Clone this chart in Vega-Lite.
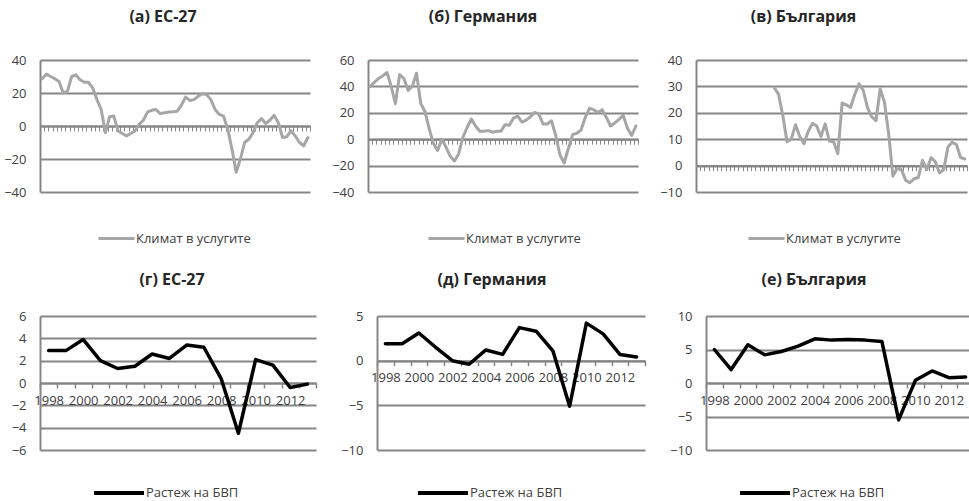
{
  "$schema": "https://vega.github.io/schema/vega-lite/v6.json",
  "padding": {"left": 0, "top": 9, "right": 0, "bottom": 0},
  "background": "white",
  "config": {
    "font": "Open Sans",
    "view": {"stroke": null},
    "axis": {"labelFont": "Open Sans", "labelFontSize": 13, "labelColor": "#404040", "title": null},
    "legend": {"symbolType": "stroke", "labelFont": "Open Sans", "labelFontSize": 13, "labelColor": "#404040", "padding": 0, "labelOffset": 0, "title": null},
    "title": {"font": "Open Sans", "fontSize": 16, "fontWeight": "bold", "color": "#262626", "anchor": "middle", "frame": "group"},
    "line": {"strokeJoin": "round", "strokeCap": "round"}
  },
  "datasets": {
    "eu": [
      {"q":"1998Q1","v":28.7},{"q":"1998Q2","v":31.4},{"q":"1998Q3","v":30},{"q":"1998Q4","v":28.7},
      {"q":"1999Q1","v":27},{"q":"1999Q2","v":20},{"q":"1999Q3","v":21},{"q":"1999Q4","v":30},
      {"q":"2000Q1","v":31},{"q":"2000Q2","v":28},{"q":"2000Q3","v":26.5},{"q":"2000Q4","v":26.5},
      {"q":"2001Q1","v":23},{"q":"2001Q2","v":16},{"q":"2001Q3","v":10},{"q":"2001Q4","v":-4},
      {"q":"2002Q1","v":5.6},{"q":"2002Q2","v":6},{"q":"2002Q3","v":-3},{"q":"2002Q4","v":-4.5},
      {"q":"2003Q1","v":-6},{"q":"2003Q2","v":-4.5},{"q":"2003Q3","v":-3},{"q":"2003Q4","v":1},
      {"q":"2004Q1","v":3.5},{"q":"2004Q2","v":8.5},{"q":"2004Q3","v":9.5},{"q":"2004Q4","v":10},
      {"q":"2005Q1","v":7.5},{"q":"2005Q2","v":8},{"q":"2005Q3","v":8.5},{"q":"2005Q4","v":8.7},
      {"q":"2006Q1","v":9},{"q":"2006Q2","v":12.5},{"q":"2006Q3","v":17.5},{"q":"2006Q4","v":15.5},
      {"q":"2007Q1","v":16},{"q":"2007Q2","v":18},{"q":"2007Q3","v":19.5},{"q":"2007Q4","v":19},
      {"q":"2008Q1","v":16},{"q":"2008Q2","v":10},{"q":"2008Q3","v":7},{"q":"2008Q4","v":6},
      {"q":"2009Q1","v":-2},{"q":"2009Q2","v":-14},{"q":"2009Q3","v":-28},{"q":"2009Q4","v":-20},
      {"q":"2010Q1","v":-10},{"q":"2010Q2","v":-8},{"q":"2010Q3","v":-4},{"q":"2010Q4","v":2},
      {"q":"2011Q1","v":4.5},{"q":"2011Q2","v":1.5},{"q":"2011Q3","v":3.5},{"q":"2011Q4","v":6.5},
      {"q":"2012Q1","v":2},{"q":"2012Q2","v":-7},{"q":"2012Q3","v":-6.5},{"q":"2012Q4","v":-3},
      {"q":"2013Q1","v":-6},{"q":"2013Q2","v":-10},{"q":"2013Q3","v":-12},{"q":"2013Q4","v":-7}
    ],
    "de": [
      {"q":"1998Q1","v":40},{"q":"1998Q2","v":43},{"q":"1998Q3","v":46},{"q":"1998Q4","v":48},
      {"q":"1999Q1","v":50.5},{"q":"1999Q2","v":40},{"q":"1999Q3","v":27},{"q":"1999Q4","v":49},
      {"q":"2000Q1","v":46},{"q":"2000Q2","v":37},{"q":"2000Q3","v":40},{"q":"2000Q4","v":50},
      {"q":"2001Q1","v":27},{"q":"2001Q2","v":21},{"q":"2001Q3","v":8},{"q":"2001Q4","v":-3},
      {"q":"2002Q1","v":-8.5},{"q":"2002Q2","v":0},{"q":"2002Q3","v":-6},{"q":"2002Q4","v":-13},
      {"q":"2003Q1","v":-16.5},{"q":"2003Q2","v":-11},{"q":"2003Q3","v":1.5},{"q":"2003Q4","v":9},
      {"q":"2004Q1","v":15.3},{"q":"2004Q2","v":10},{"q":"2004Q3","v":6},{"q":"2004Q4","v":6},
      {"q":"2005Q1","v":6.5},{"q":"2005Q2","v":5.3},{"q":"2005Q3","v":6},{"q":"2005Q4","v":6},
      {"q":"2006Q1","v":11},{"q":"2006Q2","v":10.5},{"q":"2006Q3","v":16},{"q":"2006Q4","v":17.5},
      {"q":"2007Q1","v":13},{"q":"2007Q2","v":14.5},{"q":"2007Q3","v":17},{"q":"2007Q4","v":20.3},
      {"q":"2008Q1","v":19},{"q":"2008Q2","v":11.5},{"q":"2008Q3","v":11.5},{"q":"2008Q4","v":14},
      {"q":"2009Q1","v":2.8},{"q":"2009Q2","v":-12},{"q":"2009Q3","v":-18},{"q":"2009Q4","v":-7},
      {"q":"2010Q1","v":3.5},{"q":"2010Q2","v":4.5},{"q":"2010Q3","v":7},{"q":"2010Q4","v":16.5},
      {"q":"2011Q1","v":23.4},{"q":"2011Q2","v":22.4},{"q":"2011Q3","v":20.3},{"q":"2011Q4","v":22.4},
      {"q":"2012Q1","v":16.5},{"q":"2012Q2","v":10},{"q":"2012Q3","v":12.3},{"q":"2012Q4","v":15},
      {"q":"2013Q1","v":18},{"q":"2013Q2","v":8.3},{"q":"2013Q3","v":2.8},{"q":"2013Q4","v":10}
    ],
    "bg": [
      {"q":"2002Q3","v":29.5},{"q":"2002Q4","v":27},
      {"q":"2003Q1","v":19},{"q":"2003Q2","v":9},{"q":"2003Q3","v":10},{"q":"2003Q4","v":15.5},
      {"q":"2004Q1","v":11},{"q":"2004Q2","v":8.3},{"q":"2004Q3","v":13},{"q":"2004Q4","v":16},
      {"q":"2005Q1","v":15},{"q":"2005Q2","v":11},{"q":"2005Q3","v":15.8},{"q":"2005Q4","v":9.3},
      {"q":"2006Q1","v":9},{"q":"2006Q2","v":4.5},{"q":"2006Q3","v":23.7},{"q":"2006Q4","v":23},
      {"q":"2007Q1","v":22},{"q":"2007Q2","v":27},{"q":"2007Q3","v":31},{"q":"2007Q4","v":28.5},
      {"q":"2008Q1","v":22},{"q":"2008Q2","v":18.5},{"q":"2008Q3","v":17},{"q":"2008Q4","v":29},
      {"q":"2009Q1","v":24},{"q":"2009Q2","v":12},{"q":"2009Q3","v":-4},{"q":"2009Q4","v":-1},
      {"q":"2010Q1","v":-1.5},{"q":"2010Q2","v":-5.5},{"q":"2010Q3","v":-6.5},{"q":"2010Q4","v":-5},
      {"q":"2011Q1","v":-4.5},{"q":"2011Q2","v":2},{"q":"2011Q3","v":-1.5},{"q":"2011Q4","v":3},
      {"q":"2012Q1","v":1.5},{"q":"2012Q2","v":-2.8},{"q":"2012Q3","v":-1.5},{"q":"2012Q4","v":7},
      {"q":"2013Q1","v":8.8},{"q":"2013Q2","v":8},{"q":"2013Q3","v":3},{"q":"2013Q4","v":2.5}
    ],
    "gdp": [
      {"year":1998,"eu":2.9,"de":1.9,"bg":5.0},
      {"year":1999,"eu":2.9,"de":1.9,"bg":2.0},
      {"year":2000,"eu":3.9,"de":3.1,"bg":5.7},
      {"year":2001,"eu":2.0,"de":1.5,"bg":4.2},
      {"year":2002,"eu":1.3,"de":0.0,"bg":4.7},
      {"year":2003,"eu":1.5,"de":-0.4,"bg":5.5},
      {"year":2004,"eu":2.6,"de":1.2,"bg":6.6},
      {"year":2005,"eu":2.2,"de":0.7,"bg":6.4},
      {"year":2006,"eu":3.4,"de":3.7,"bg":6.5},
      {"year":2007,"eu":3.2,"de":3.3,"bg":6.4},
      {"year":2008,"eu":0.4,"de":1.1,"bg":6.2},
      {"year":2009,"eu":-4.5,"de":-5.1,"bg":-5.5},
      {"year":2010,"eu":2.1,"de":4.2,"bg":0.4},
      {"year":2011,"eu":1.6,"de":3.0,"bg":1.8},
      {"year":2012,"eu":-0.4,"de":0.7,"bg":0.8},
      {"year":2013,"eu":-0.1,"de":0.4,"bg":0.9}
    ]
  },
  "spacing": 26,
  "resolve": {"scale": {"color": "independent"}, "legend": {"color": "independent"}},
  "vconcat": [
    {
      "hconcat": [
        {
          "data": {"name": "eu"},
          "width": 270, "height": 132,
          "title": {"text": "(а) ЕС-27", "dx": -12, "offset": 29},
          "mark": {"type": "line", "strokeWidth": 3},
          "encoding": {
            "x": {"field": "q", "type": "ordinal", "bandPosition": 0.5, "scale": {"type": "band", "paddingInner": 0, "paddingOuter": 0}, "axis": {"labels": false, "tickBand": "extent", "offset": -66, "tickSize": 5, "grid": false, "domainColor": "#868686", "domainWidth": 2, "tickColor": "#868686", "tickWidth": 1}},
            "y": {"field": "v", "type": "quantitative", "scale": {"domain": [-40, 40], "nice": false}, "axis": {"values": [-40, -20, 0, 20, 40], "domain": true, "grid": true, "gridColor": "#868686", "domainColor": "#868686", "gridWidth": 2, "domainWidth": 2, "tickOpacity": 0, "tickSize": 1, "labelPadding": 13, "minExtent": 40, "maxExtent": 40}},
            "color": {"datum": "Климат в услугите", "type": "nominal", "scale": {"range": ["#a6a6a6"]}, "legend": {"orient": "none", "legendX": 57, "legendY": 159, "symbolSize": 1296, "symbolStrokeWidth": 3}}
          }
        },
        {
          "data": {"name": "de"},
          "width": 270, "height": 132,
          "title": {"text": "(б) Германия", "dx": -20, "offset": 29},
          "mark": {"type": "line", "strokeWidth": 3},
          "encoding": {
            "x": {"field": "q", "type": "ordinal", "bandPosition": 0.5, "scale": {"type": "band", "paddingInner": 0, "paddingOuter": 0}, "axis": {"labels": false, "tickBand": "extent", "offset": -52.8, "tickSize": 5, "grid": false, "domainColor": "#868686", "domainWidth": 2, "tickColor": "#868686", "tickWidth": 1}},
            "y": {"field": "v", "type": "quantitative", "scale": {"domain": [-40, 60], "nice": false}, "axis": {"values": [-40, -20, 0, 20, 40, 60], "domain": true, "grid": true, "gridColor": "#868686", "domainColor": "#868686", "gridWidth": 2, "domainWidth": 2, "tickOpacity": 0, "tickSize": 1, "labelPadding": 13, "minExtent": 40, "maxExtent": 40}},
            "color": {"datum": "Климат в услугите", "type": "nominal", "scale": {"range": ["#a6a6a6"]}, "legend": {"orient": "none", "legendX": 59, "legendY": 159, "symbolSize": 1296, "symbolStrokeWidth": 3}}
          }
        },
        {
          "data": {"name": "bg"},
          "width": 271, "height": 132,
          "title": {"text": "(в) България", "dx": -28, "offset": 29},
          "mark": {"type": "line", "strokeWidth": 3},
          "encoding": {
            "x": {"field": "q", "type": "ordinal", "bandPosition": 0.5, "scale": {"type": "band", "paddingInner": 0, "paddingOuter": 0, "domain": ["1998Q1","1998Q2","1998Q3","1998Q4","1999Q1","1999Q2","1999Q3","1999Q4","2000Q1","2000Q2","2000Q3","2000Q4","2001Q1","2001Q2","2001Q3","2001Q4","2002Q1","2002Q2","2002Q3","2002Q4","2003Q1","2003Q2","2003Q3","2003Q4","2004Q1","2004Q2","2004Q3","2004Q4","2005Q1","2005Q2","2005Q3","2005Q4","2006Q1","2006Q2","2006Q3","2006Q4","2007Q1","2007Q2","2007Q3","2007Q4","2008Q1","2008Q2","2008Q3","2008Q4","2009Q1","2009Q2","2009Q3","2009Q4","2010Q1","2010Q2","2010Q3","2010Q4","2011Q1","2011Q2","2011Q3","2011Q4","2012Q1","2012Q2","2012Q3","2012Q4","2013Q1","2013Q2","2013Q3","2013Q4"]}, "axis": {"labels": false, "tickBand": "extent", "offset": -26.4, "tickSize": 5, "grid": false, "domainColor": "#868686", "domainWidth": 2, "tickColor": "#868686", "tickWidth": 1}},
            "y": {"field": "v", "type": "quantitative", "scale": {"domain": [-10, 40], "nice": false}, "axis": {"values": [-10, 0, 10, 20, 30, 40], "domain": true, "grid": true, "gridColor": "#868686", "domainColor": "#868686", "gridWidth": 2, "domainWidth": 2, "tickOpacity": 0, "tickSize": 1, "labelPadding": 13, "minExtent": 40, "maxExtent": 40}},
            "color": {"datum": "Климат в услугите", "type": "nominal", "scale": {"range": ["#a6a6a6"]}, "legend": {"orient": "none", "legendX": 51, "legendY": 159, "symbolSize": 1296, "symbolStrokeWidth": 3}}
          }
        }
      ],
      "spacing": 58,
      "bounds": "flush",
      "resolve": {"scale": {"color": "independent"}, "legend": {"color": "independent"}}
    },
    {
      "hconcat": [
        {
          "data": {"name": "gdp"},
          "width": 276, "height": 134,
          "title": {"text": "(г) ЕС-27", "dx": -6, "offset": 22},
          "mark": {"type": "line", "strokeWidth": 3.5},
          "encoding": {
            "x": {"field": "year", "type": "ordinal", "bandPosition": 0.5, "scale": {"type": "band", "paddingInner": 0, "paddingOuter": 0}, "axis": {"labelExpr": "datum.value % 2 == 0 ? datum.label : ''", "labelAngle": 0, "labelOverlap": false, "labelPadding": 6, "tickBand": "extent", "offset": -67, "tickSize": 5, "grid": false, "domainColor": "#868686", "domainWidth": 2, "tickColor": "#868686", "tickWidth": 1.5}},
            "y": {"field": "eu", "type": "quantitative", "scale": {"domain": [-6, 6], "nice": false}, "axis": {"values": [-6, -4, -2, 0, 2, 4, 6], "domain": true, "grid": true, "gridColor": "#868686", "domainColor": "#868686", "gridWidth": 2, "domainWidth": 2, "tickOpacity": 0, "tickSize": 1, "labelPadding": 13, "minExtent": 31, "maxExtent": 31}},
            "color": {"datum": "Растеж на БВП", "type": "nominal", "scale": {"range": ["#000000"]}, "legend": {"orient": "none", "legendX": 52, "legendY": 150, "symbolSize": 2500, "symbolStrokeWidth": 4}}
          }
        },
        {
          "data": {"name": "gdp"},
          "width": 268, "height": 134,
          "title": {"text": "(д) Германия", "dx": -19, "offset": 22},
          "mark": {"type": "line", "strokeWidth": 3.5},
          "encoding": {
            "x": {"field": "year", "type": "ordinal", "bandPosition": 0.5, "scale": {"type": "band", "paddingInner": 0, "paddingOuter": 0}, "axis": {"labelExpr": "datum.value % 2 == 0 ? datum.label : ''", "labelAngle": 0, "labelOverlap": false, "labelPadding": 6, "tickBand": "extent", "offset": -89.33, "tickSize": 5, "grid": false, "domainColor": "#868686", "domainWidth": 2, "tickColor": "#868686", "tickWidth": 1.5}},
            "y": {"field": "de", "type": "quantitative", "scale": {"domain": [-10, 5], "nice": false}, "axis": {"values": [-10, -5, 0, 5], "domain": true, "grid": true, "gridColor": "#868686", "domainColor": "#868686", "gridWidth": 2, "domainWidth": 2, "tickOpacity": 0, "tickSize": 1, "labelPadding": 13, "minExtent": 31, "maxExtent": 31}},
            "color": {"datum": "Растеж на БВП", "type": "nominal", "scale": {"range": ["#000000"]}, "legend": {"orient": "none", "legendX": 39, "legendY": 150, "symbolSize": 2500, "symbolStrokeWidth": 4}}
          }
        },
        {
          "data": {"name": "gdp"},
          "width": 268, "height": 134,
          "title": {"text": "(е) България", "dx": -26, "offset": 22},
          "mark": {"type": "line", "strokeWidth": 3.5},
          "encoding": {
            "x": {"field": "year", "type": "ordinal", "bandPosition": 0.5, "scale": {"type": "band", "paddingInner": 0, "paddingOuter": 0}, "axis": {"labelExpr": "datum.value % 2 == 0 ? datum.label : ''", "labelAngle": 0, "labelOverlap": false, "labelPadding": 6, "tickBand": "extent", "offset": -67, "tickSize": 5, "grid": false, "domainColor": "#868686", "domainWidth": 2, "tickColor": "#868686", "tickWidth": 1.5}},
            "y": {"field": "bg", "type": "quantitative", "scale": {"domain": [-10, 10], "nice": false}, "axis": {"values": [-10, -5, 0, 5, 10], "domain": true, "grid": true, "gridColor": "#868686", "domainColor": "#868686", "gridWidth": 2, "domainWidth": 2, "tickOpacity": 0, "tickSize": 1, "labelPadding": 13, "minExtent": 31, "maxExtent": 31}},
            "color": {"datum": "Растеж на БВП", "type": "nominal", "scale": {"range": ["#000000"]}, "legend": {"orient": "none", "legendX": 32, "legendY": 150, "symbolSize": 2500, "symbolStrokeWidth": 4}}
          }
        }
      ],
      "spacing": 61,
      "bounds": "flush",
      "resolve": {"scale": {"color": "independent"}, "legend": {"color": "independent"}}
    }
  ]
}
